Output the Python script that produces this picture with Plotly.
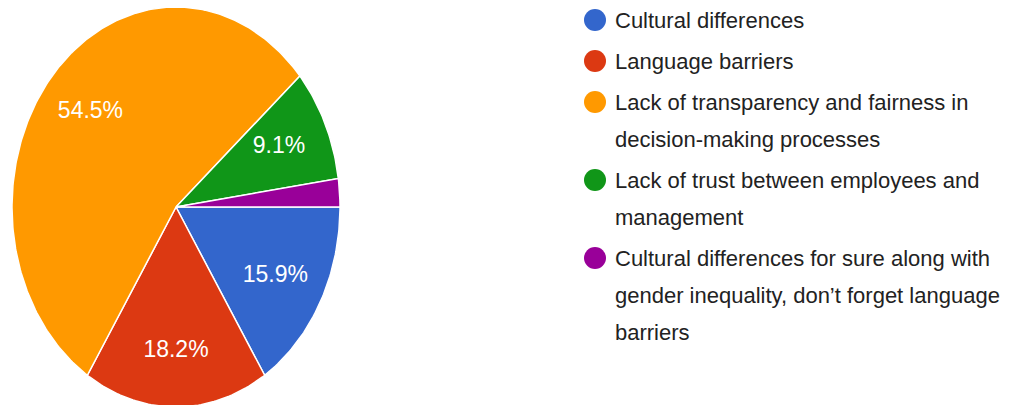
import numpy as np
import plotly.graph_objects as go

# Survey answers (44 responses) and their slice colours
categories = [
    "Cultural differences",
    "Language barriers",
    "Lack of transparency and fairness in<br>decision-making processes",
    "Lack of trust between employees and<br>management",
    "Cultural differences for sure along with<br>gender inequality, don’t forget language<br>barriers",
]
responses = [7, 8, 24, 4, 1]
colors = ["#3366cc", "#dc3912", "#ff9900", "#109618", "#990099"]

W, H = 1009, 405
# pie geometry in pixels: centre and horizontal / vertical radius
CX, CY, RX, RY = 176, 207, 164, 200
PIE_DOMAIN_X = 0.4

total = sum(responses)
shares = [r / total for r in responses]

fig = go.Figure()

# slices: clockwise, starting at 3 o'clock, on a unit-circle axis system
start = 0.0
label_x, label_y, label_t = [], [], []
for name, share, col in zip(categories, shares, colors):
    end = start + share * 2 * np.pi
    t = np.linspace(start, end, max(4, int(share * 400)))
    xs = np.concatenate([[0.0], np.cos(t), [0.0]])
    ys = np.concatenate([[0.0], -np.sin(t), [0.0]])
    fig.add_trace(go.Scatter(
        x=xs, y=ys, mode="lines", fill="toself", fillcolor=col,
        line=dict(color="white", width=1.5), showlegend=False,
        hoverinfo="skip", xaxis="x", yaxis="y",
    ))
    mid = (start + end) / 2
    if share >= 0.05:
        label_x.append(0.69 * np.cos(mid))
        label_y.append(-0.72 * np.sin(mid))
        label_t.append(f"{share * 100:.1f}%")
    start = end

fig.add_trace(go.Scatter(
    x=label_x, y=label_y, text=label_t, mode="text",
    textfont=dict(family="Liberation Sans, Arial", size=23, color="white"),
    showlegend=False, hoverinfo="skip", xaxis="x", yaxis="y",
))

# legend drawn in pixel coordinates on a second axis pair
LEG_MARK_X, LEG_TEXT_X = 595, 613
FIRST_Y, LINE_GAP, ITEM_GAP = 20, 37, 41
annotations = []
mark_y = []
y = FIRST_Y
for name in categories:
    lines = name.split("<br>")
    mark_y.append(y)
    for i, ln in enumerate(lines):
        annotations.append(dict(
            x=LEG_TEXT_X, y=y + i * LINE_GAP, xref="x2", yref="y2",
            text=ln, showarrow=False, xanchor="left", yanchor="middle",
            font=dict(family="Liberation Sans, Arial", size=22, color="#222222"),
        ))
    y += (len(lines) - 1) * LINE_GAP + ITEM_GAP

fig.add_trace(go.Scatter(
    x=[LEG_MARK_X] * len(categories), y=mark_y, mode="markers",
    marker=dict(size=22, color=colors, symbol="circle", line=dict(width=0)),
    showlegend=False, hoverinfo="skip", xaxis="x2", yaxis="y2",
))

px_w = W * PIE_DOMAIN_X
fig.update_layout(
    width=W, height=H,
    margin=dict(l=0, r=0, t=0, b=0),
    paper_bgcolor="white", plot_bgcolor="rgba(0,0,0,0)",
    xaxis=dict(domain=[0, PIE_DOMAIN_X], range=[-CX / RX, (px_w - CX) / RX],
               visible=False, fixedrange=True),
    yaxis=dict(domain=[0, 1], range=[-(H - CY) / RY, CY / RY],
               visible=False, fixedrange=True),
    xaxis2=dict(domain=[0, 1], range=[0, W], anchor="y2", visible=False, fixedrange=True),
    yaxis2=dict(domain=[0, 1], range=[H, 0], anchor="x2", visible=False, fixedrange=True),
    annotations=annotations,
    showlegend=False,
)

fig.write_html("out.html")
